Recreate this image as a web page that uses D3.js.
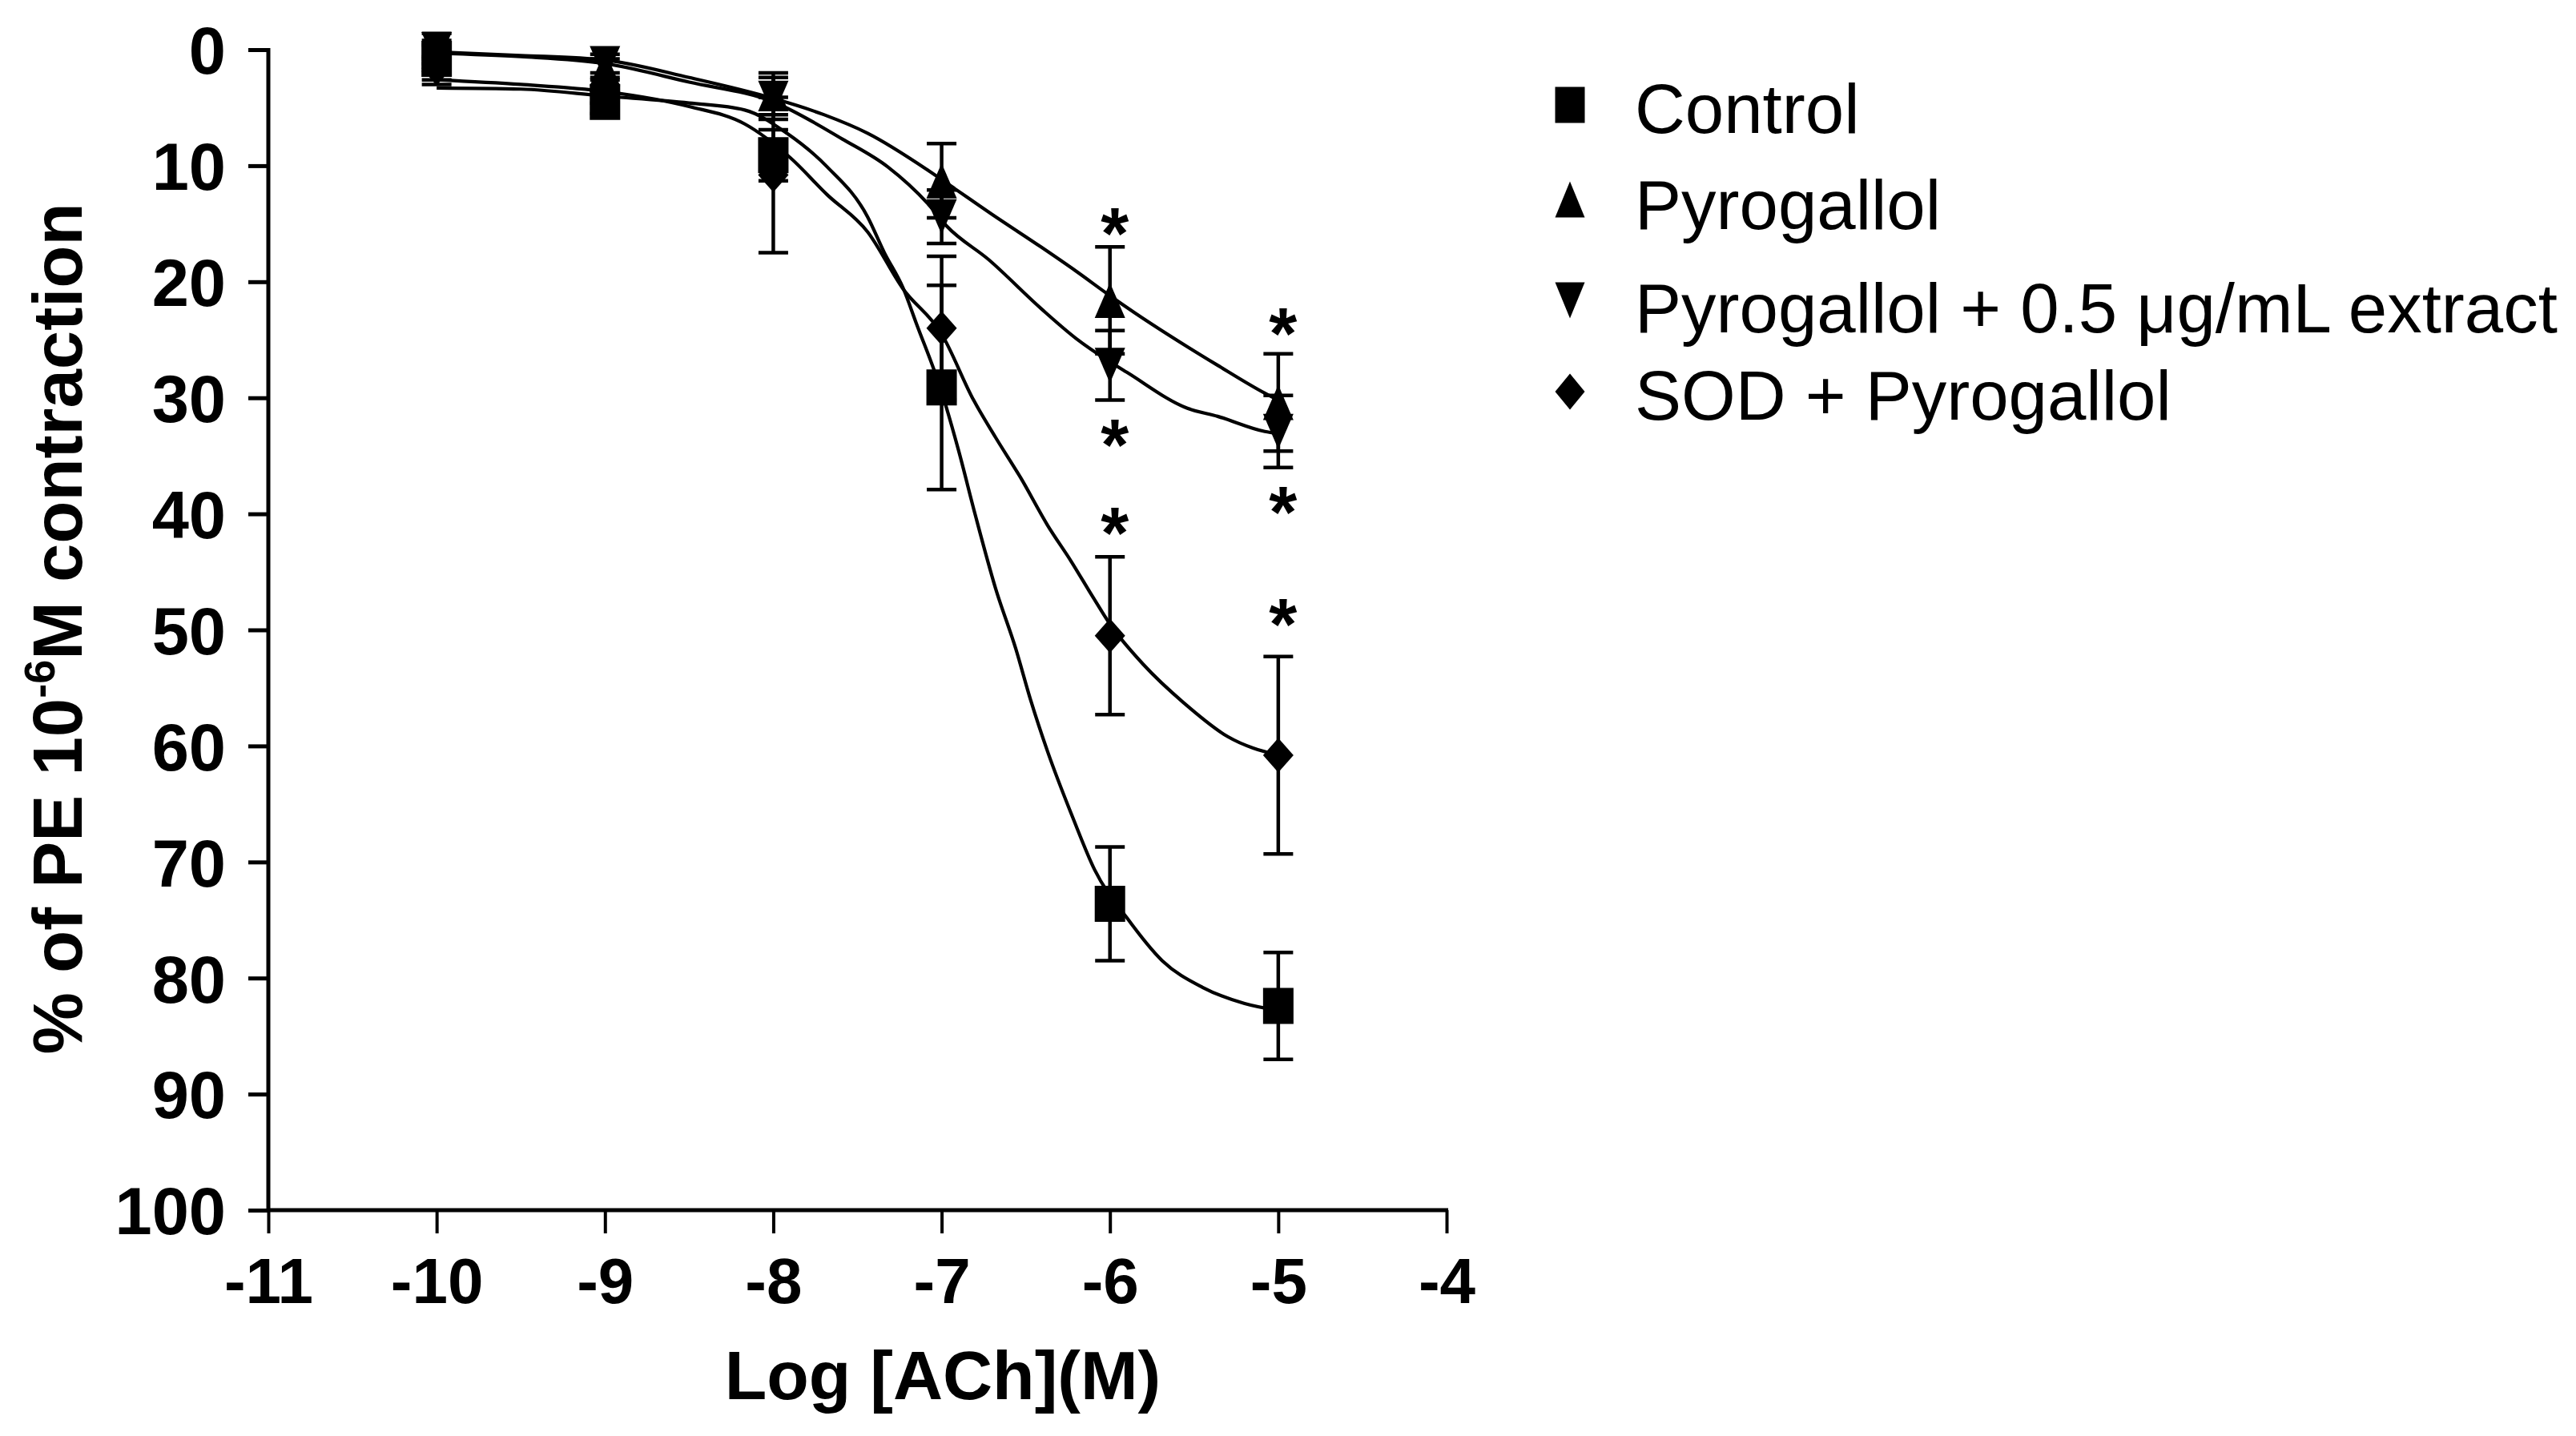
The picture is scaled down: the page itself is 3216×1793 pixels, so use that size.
<!DOCTYPE html>
<html>
<head>
<meta charset="utf-8">
<script src="https://cdn.jsdelivr.net/npm/d3@7"></script>
<style>
html,body{margin:0;padding:0;background:#fff;}
svg{display:block;}
text{font-family:"Liberation Sans",Arial,Helvetica,sans-serif;fill:#000;}
</style>
</head>
<body>
<svg id="chart" width="3216" height="1793"></svg>
<script>
// ---------- data ----------
const xTicks = [-11, -10, -9, -8, -7, -6, -5, -4];
const yTicks = [0, 10, 20, 30, 40, 50, 60, 70, 80, 90, 100];
const doses = [-10, -9, -8, -7, -6, -5];

const controlMean = [0.8, 4.5, 9.1, 29.1, 73.6, 82.4];
const controlSem  = [2.2, 1.0, 2.2, 8.8, 4.9, 4.6];
const pyroMean    = [0.4, 1.6, 3.8, 11.3, 21.6, 30.4];
const pyroSem     = [0.8, 0.8, 1.8, 3.2, 4.6, 4.2];
const extractMean = [0.0, 1.2, 4.2, 14.4, 27.2, 32.9];
const extractSem  = [0.8, 0.8, 1.8, 2.3, 3.0, 3.1];
const sodMean     = [1.6, 3.6, 10.8, 24.0, 50.5, 60.8];
const sodSem      = [1.0, 1.0, 6.7, 6.2, 6.8, 8.5];

// fitted curves: [log dose, % value]
const controlFit = [[-10,3.3],[-9.5,3.4],[-9,4.0],[-8.5,4.6],[-8.17,5.2],[-7.92,7.2],[-7.68,10.1],[-7.44,14.4],[-7.34,17.5],[-7.23,20.5],[-7.15,23.6],[-7.0,29.5],[-6.9,34.5],[-6.8,40.1],[-6.68,46.4],[-6.56,51.6],[-6.47,56.1],[-6.37,60.5],[-6.22,66.2],[-6.09,70.7],[-5.9,74.8],[-5.69,78.5],[-5.45,80.8],[-5.2,82.2],[-5.0,82.8]];
const pyroFit    = [[-10,0.2],[-9.5,0.5],[-9,0.9],[-8.5,2.4],[-8,4.2],[-7.7,5.6],[-7.44,7.2],[-7.08,10.4],[-6.92,12.0],[-6.7,14.2],[-6.41,17.0],[-6.2,19.1],[-6,21.2],[-5.85,22.7],[-5.54,25.6],[-5.36,27.2],[-5.08,29.6],[-5.0,30.2]];
const extractFit = [[-10,0.3],[-9.5,0.6],[-9,1.2],[-8.5,2.8],[-8,4.5],[-7.59,7.7],[-7.32,10.1],[-7.08,13.3],[-6.97,15.2],[-6.72,18.1],[-6.41,22.3],[-6.2,24.9],[-6,26.9],[-5.9,27.8],[-5.54,30.9],[-5.36,31.6],[-5.08,32.9],[-5.0,33.1]];
const sodFit     = [[-10,2.6],[-9.5,3.0],[-9,3.6],[-8.5,4.9],[-8.17,6.4],[-7.9,9.3],[-7.68,12.5],[-7.44,15.7],[-7.23,20.6],[-7.0,24.5],[-6.81,30.2],[-6.68,33.4],[-6.53,36.9],[-6.37,41.0],[-6.23,44.1],[-6.10,47.2],[-6.0,49.5],[-5.8,53.0],[-5.56,56.3],[-5.3,59.2],[-5.0,60.8]];

// significance asterisks
const sigX = [-6, -6, -6, -5, -5, -5];
const sigY = [14.6, 32.8, 40.4, 23.2, 38.6, 48.3];

const seriesNames = ["Control", "Pyrogallol", "Pyrogallol + 0.5 \u03BCg/mL extract", "SOD + Pyrogallol"];
const seriesSymbols = ["square", "triangle", "triangleDown", "diamond"];

// ---------- drawing ----------
const svg = d3.select("#chart");
const x = d3.scaleLinear().domain([-11, -4]).range([335, 1806]);
const y = d3.scaleLinear().domain([0, 100]).range([62, 1511]);

const means = [controlMean, pyroMean, extractMean, sodMean];
const sems = [controlSem, pyroSem, extractSem, sodSem];
const fits = [controlFit, pyroFit, extractFit, sodFit];

function symbolPath(kind, w, h) {
  const a = w / 2, b = h / 2;
  if (kind === "square") return `M${-a},${-b}H${a}V${b}H${-a}Z`;
  if (kind === "triangle") return `M0,${-b}L${a},${b}L${-a},${b}Z`;
  if (kind === "triangleDown") return `M${-a},${-b}L${a},${-b}L0,${b}Z`;
  return `M0,${-b}L${a},0L0,${b}L${-a},0Z`;
}
const symSize = {square:[38,45], triangle:[38,44], triangleDown:[38,44], diamond:[38,43]};
const plainFormat = d => String(d);

// axes
const yAxis = d3.axisLeft(y).tickValues(yTicks).tickSize(25).tickPadding(28).tickFormat(plainFormat);
const gy = svg.append("g").attr("transform", `translate(${x(-11)},0)`).call(yAxis);
gy.select(".domain").attr("stroke", "#000").attr("stroke-width", 5).attr("d", `M0,${y(0)-2}V${y(100)+2}`);
gy.selectAll(".tick line").attr("stroke", "#000").attr("stroke-width", 5);
gy.selectAll(".tick text").attr("font-size", 83).attr("font-weight", "bold")
  .attr("font-family", "'Liberation Sans',Arial,sans-serif").attr("dy", "0.36em").attr("fill", "#000");

const xAxis = d3.axisBottom(x).tickValues(xTicks).tickSize(29).tickPadding(30).tickFormat(plainFormat);
const gx = svg.append("g").attr("transform", `translate(0,${y(100)})`).call(xAxis);
gx.select(".domain").attr("stroke", "#000").attr("stroke-width", 5).attr("d", `M${x(-11)-2},0H${x(-4)+2}`);
gx.selectAll(".tick line").attr("stroke", "#000").attr("stroke-width", 4);
gx.selectAll(".tick text").attr("font-size", 80).attr("font-weight", "bold")
  .attr("font-family", "'Liberation Sans',Arial,sans-serif").attr("dy", "0.71em").attr("fill", "#000");

// axis titles
svg.append("text").attr("x", 1177).attr("y", 1747).attr("text-anchor", "middle")
  .attr("font-size", 86).attr("font-weight", "bold").text("Log [ACh](M)");

const yt = svg.append("text").attr("transform", "translate(102,785) rotate(-90)")
  .attr("text-anchor", "middle").attr("font-size", 87).attr("font-weight", "bold");
yt.append("tspan").text("% of PE 10");
yt.append("tspan").attr("font-size", 54).attr("dy", -34).text("-6");
yt.append("tspan").attr("dy", 34).text("M contraction");

// fitted curves
const line = d3.line().x(d => x(d[0])).y(d => y(d[1])).curve(d3.curveMonotoneX);
svg.append("g").selectAll("path").data(fits).join("path")
  .attr("d", line).attr("fill", "none").attr("stroke", "#000").attr("stroke-width", 4.2);

// error bars
const capW = 37;
means.forEach((m, si) => {
  const g = svg.append("g").attr("stroke", "#000").attr("stroke-width", 4.5);
  doses.forEach((dv, i) => {
    const e = sems[si][i];
    if (!e) return;
    const cx = x(dv), y1 = y(m[i] - e), y2 = y(m[i] + e);
    g.append("line").attr("x1", cx).attr("x2", cx).attr("y1", y1).attr("y2", y2);
    g.append("line").attr("x1", cx - capW/2).attr("x2", cx + capW/2).attr("y1", y1).attr("y2", y1);
    g.append("line").attr("x1", cx - capW/2).attr("x2", cx + capW/2).attr("y1", y2).attr("y2", y2);
  });
});

// markers
means.forEach((m, si) => {
  const k = seriesSymbols[si];
  const [w, h] = symSize[k];
  svg.append("g").selectAll("path").data(doses).join("path")
    .attr("d", symbolPath(k, w, h))
    .attr("transform", (d, i) => `translate(${x(d)},${y(m[i])})`)
    .attr("fill", "#000");
});

// asterisks
svg.append("g").selectAll("text").data(sigX).join("text")
  .attr("x", d => x(d) + 6).attr("y", (d, i) => y(sigY[i]) + 0.55 * 90)
  .attr("text-anchor", "middle").attr("font-size", 90).attr("font-weight", "bold").text("*");

// legend
const legY = [131, 249, 375, 489];
const legBase = [166, 286, 415, 524];
const leg = svg.append("g");
seriesNames.forEach((name, i) => {
  const k = seriesSymbols[i];
  leg.append("path").attr("d", symbolPath(k, 37, 45)).attr("transform", `translate(1960,${legY[i]})`).attr("fill", "#000");
  leg.append("text").attr("x", 2041).attr("y", legBase[i]).attr("font-size", 87).text(name);
});
</script>
</body>
</html>
